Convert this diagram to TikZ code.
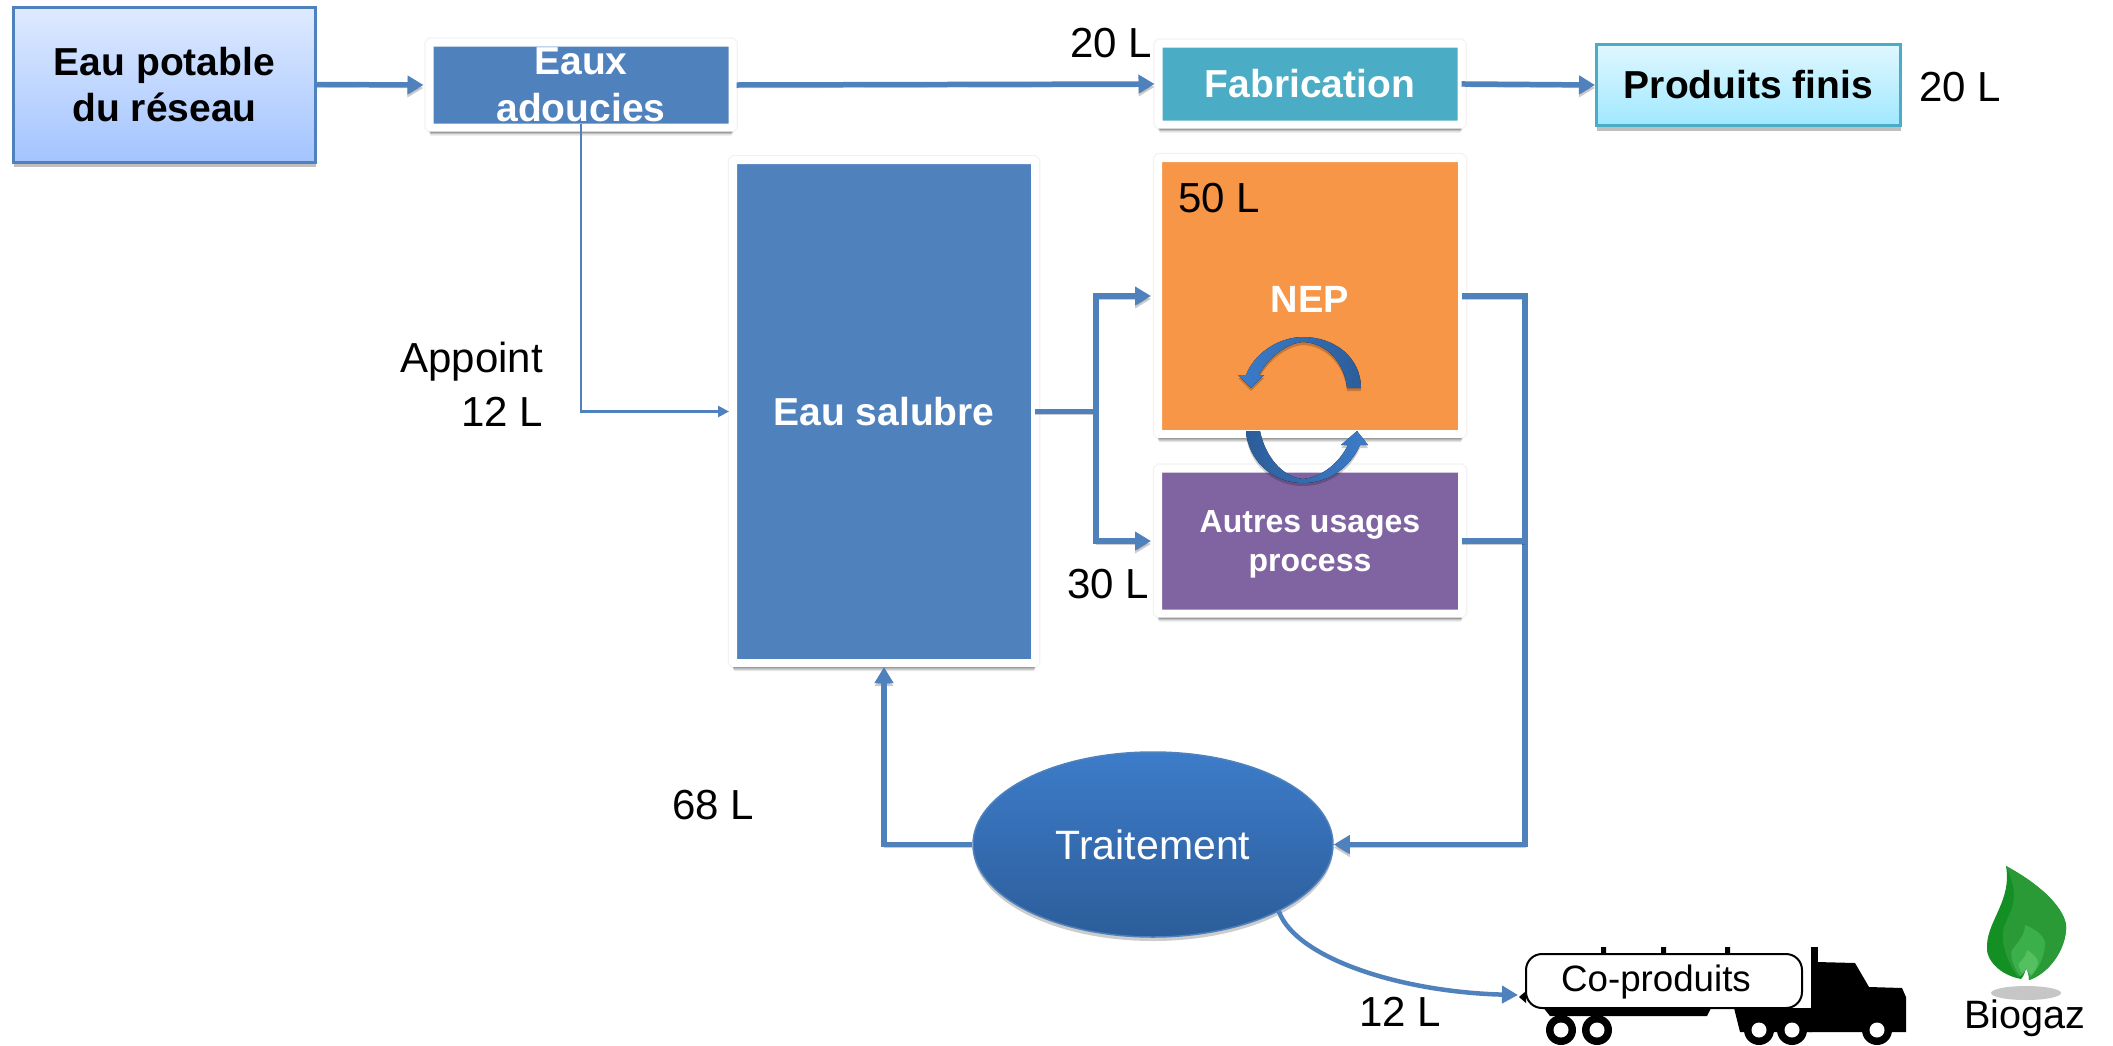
\documentclass[tikz,border=0pt]{standalone}
\usepackage{fontspec}
\setmainfont{Liberation Sans}
\usetikzlibrary{shadows,arrows.meta,calc,shapes.geometric}
\definecolor{flowblue}{HTML}{4F81BD}
\definecolor{tealbox}{HTML}{4BACC6}
\definecolor{orangebox}{HTML}{F79646}
\definecolor{purplebox}{HTML}{8064A2}
\definecolor{ribbonlight}{HTML}{3D7CC9}
\definecolor{ribbondark}{HTML}{2C5D9A}
\definecolor{potabletop}{HTML}{DEEAFF}
\definecolor{potablebot}{HTML}{A3C4FF}
\definecolor{finitop}{HTML}{E0F7FF}
\definecolor{finibot}{HTML}{A0E8FF}
\definecolor{flameA}{HTML}{148F24}
\definecolor{flameB}{HTML}{2A9A36}
\definecolor{flameC}{HTML}{3BB04A}
\definecolor{flameD}{HTML}{55C060}
\tikzset{
  softshadow/.style={drop shadow={shadow xshift=0pt,shadow yshift=-8pt,opacity=.10,fill=black},
                     drop shadow={shadow xshift=0pt,shadow yshift=-6.5pt,opacity=.16,fill=black},
                     drop shadow={shadow xshift=0pt,shadow yshift=-5pt,opacity=.22,fill=black},
                     drop shadow={shadow xshift=0pt,shadow yshift=0pt,draw=black,line width=10.5pt,opacity=.05,fill=none}},
  panel/.style={draw=white,line width=8pt,rounded corners=1.5pt,inner sep=0pt,align=center,text=white,softshadow,
                font=\fontsize{39}{47}\selectfont\bfseries},
  gradbox/.style={line width=3pt,inner sep=0pt,align=center,text=black,
                  drop shadow={shadow xshift=0pt,shadow yshift=-5pt,opacity=.25,fill=black},
                  font=\fontsize{39}{46}\selectfont\bfseries},
  boxtext/.style={inner sep=0pt,text=white,align=center},
  lbl/.style={inner sep=0pt,text=black,font=\fontsize{42}{48}\selectfont},
  flowline/.style={draw=flowblue,line width=5.5pt,line join=miter,
                   preaction={draw=black,opacity=.2,transform canvas={yshift=-3pt}}},
  flowarrow/.style={flowline,-{Triangle[length=16pt,width=18pt]}},
  thinarrow/.style={draw=flowblue,line width=2.6pt,-{Triangle[length=11pt,width=11pt]}},
  ribbonshadow/.style={drop shadow={shadow xshift=0pt,shadow yshift=-3pt,opacity=.2,fill=black}},
  wheelouter/.style={fill=black,draw=none},
  wheelinner/.style={fill=white,draw=none},
}
\begin{document}
\begin{tikzpicture}[x=1pt,y=-1pt]
\useasboundingbox[fill=white] (0,0) rectangle (2113,1045);

% boxes
\node[gradbox,draw=flowblue,top color=potabletop,bottom color=potablebot,
      minimum width=302pt,minimum height=155pt] (potable) at (164.5,84.5) {Eau potable\\du réseau};
\node[panel,fill=flowblue,minimum width=303pt,minimum height=85pt] (adou) at (581,85) {Eaux\\adoucies};
\node[panel,fill=tealbox,minimum width=303pt,minimum height=81pt] (fab) at (1310,84) {Fabrication};
\node[gradbox,draw=tealbox,top color=finitop,bottom color=finibot,
      minimum width=304pt,minimum height=81pt] (fini) at (1748.5,85) {Produits finis};
\node[panel,fill=flowblue,minimum width=302pt,minimum height=503pt] (sal) at (884,411.5) {Eau salubre};
\node[panel,fill=orangebox,minimum width=304pt,minimum height=276pt] (nep) at (1310,296) {};
\node[boxtext,font=\fontsize{38}{45}\selectfont\bfseries] (neptxt) at (1310,299) {NEP};
\node[panel,fill=purplebox,minimum width=304pt,minimum height=145pt] (autres) at (1310,541) {};
\node[boxtext,font=\fontsize{32}{39}\selectfont\bfseries] (autrestxt) at (1310,544) {Autres usages\\process};
\node[ellipse,draw=flowblue,line width=1.5pt,inner sep=0pt,minimum width=360pt,minimum height=185pt,
      top color=ribbonlight,bottom color=ribbondark,text=white,
      drop shadow={shadow xshift=0pt,shadow yshift=-4pt,opacity=.2,fill=black},
      font=\fontsize{41}{48}\selectfont] (trait) at (1153,844.5) {Traitement};

% loop ribbons
\fill[left color=ribbonlight,right color=ribbondark,ribbonshadow]
  (1251,388) -- (1238,375) -- (1246,375)
  .. controls (1255,352) and (1280,337) .. (1303,337)
  .. controls (1335,337) and (1361,358) .. (1361,388)
  -- (1347,388)
  .. controls (1345,365) and (1328,343) .. (1303,342)
  .. controls (1287,343) and (1268,358) .. (1259,375)
  -- (1264,375) -- cycle;
\fill[left color=ribbondark,right color=ribbonlight,ribbonshadow]
  (1357,431) -- (1368,445) -- (1360,445)
  .. controls (1350,468) and (1328,483) .. (1303,483)
  .. controls (1272,483) and (1248,460) .. (1246,431)
  -- (1260,431)
  .. controls (1265,456) and (1282,477) .. (1303,479)
  .. controls (1322,477) and (1339,463) .. (1348,445)
  -- (1341,445) -- cycle;

% labels
\node[lbl] (l20a) at (1111,43) {20 L};
\node[lbl] (l20b) at (1960,87) {20 L};
\node[lbl] (l50) at (1219,198) {50 L};
\node[lbl] (l30) at (1108,584) {30 L};
\node[lbl,align=right,anchor=east,font=\fontsize{42}{54}\selectfont] (lapp) at (543,384) {Appoint\\12 L\hspace{9pt}};
\node[lbl] (l68) at (713,805) {68 L};
\node[lbl] (l12) at (1400,1012) {12 L};

% connectors
\coordinate (busL) at (1096,411.5);
\coordinate (busR) at (1525,844.5);
\draw[flowarrow] (potable.east) -- ([xshift=-2pt]adou.west);
\draw[flowarrow] (adou.east) -- (fab.west);
\draw[flowarrow,shorten <=-4pt] (fab.east) -- (fini.west);
\draw[thinarrow] ([yshift=8pt]adou.south) |- (sal.west);
\draw[flowline,shorten <=-4pt] (sal.east) -- (busL);
\draw[flowarrow,shorten >=3pt] (busL) |- (nep.west);
\draw[flowarrow,shorten >=3pt] (busL) |- (autres.west);
\draw[flowarrow,shorten <=-4pt] (nep.east) -- (busR |- nep.east) -- (busR) -- (trait.east);
\draw[flowline,shorten <=-4pt] (autres.east) -- (busR |- autres.east);
\draw[flowarrow] (trait.west) -| (sal.south);

% truck
\fill (1601,947) rectangle (1606,955) (1661,947) rectangle (1666,955) (1725,947) rectangle (1730,955);
\fill (1811,947) rectangle (1818,1012);
\fill (1817,962) -- (1855,963) -- (1869,987) -- (1902,988) -- (1906,997) -- (1906,1032)
      -- (1809,1032) -- (1809,1010) -- (1817,1000) -- cycle;
\fill (1542,1006) -- (1712,1006) -- (1707,1016) -- (1550,1016) -- cycle;
\fill (1734,1008) -- (1812,1008) -- (1812,1032) -- (1740,1032) -- cycle;
\foreach \wx in {1561,1597,1759,1792,1877}{
  \fill[wheelouter] (\wx,1030) circle (15pt);
  \fill[wheelinner] (\wx,1030) circle (7.5pt);
}
\fill (1519,997) -- (1526,991) -- (1526,1003) -- cycle;
\node[draw=black,line width=2pt,fill=white,rounded corners=16pt,inner sep=0pt,
      minimum width=276pt,minimum height=54pt] (tank) at (1664,981) {};
\node[inner sep=0pt,text=black,font=\fontsize{36.7}{44}\selectfont] (cop) at (1656,982) {Co-produits};
\coordinate (tanktip) at (1518,995);
\draw[draw=flowblue,line width=4.5pt,-{Triangle[length=16pt,width=17pt]}]
  (trait.-28) .. controls (1296,958) and (1400,992) .. (tanktip);

% flame
\fill[gray!45] (2026,993) ellipse (35pt and 7pt);
\fill[flameA]
  (2006,866) .. controls (2050,890) and (2068,915) .. (2066,930)
  .. controls (2064,955) and (2045,975) .. (2029,980)
  .. controls (2029,973) and (2027,970) .. (2026,968)
  .. controls (2025,972) and (2024,976) .. (2021,979)
  .. controls (2000,975) and (1985,960) .. (1987,945)
  .. controls (1988,920) and (2012,900) .. (2006,866) -- cycle;
\fill[flameB]
  (2006,866) .. controls (2050,890) and (2068,915) .. (2066,930)
  .. controls (2064,955) and (2045,975) .. (2029,980)
  .. controls (2029,973) and (2027,970) .. (2026,968)
  .. controls (2025,972) and (2022,976) .. (2018,977)
  .. controls (2006,960) and (2000,940) .. (2004,927)
  .. controls (2010,910) and (2022,900) .. (2006,866) -- cycle;
\fill[flameC]
  (2025,925) .. controls (2038,930) and (2046,938) .. (2045,945)
  .. controls (2044,960) and (2036,972) .. (2030,977)
  .. controls (2029,973) and (2027,970) .. (2026,968)
  .. controls (2025,972) and (2024,974) .. (2020,976)
  .. controls (2012,965) and (2010,955) .. (2012,950)
  .. controls (2018,942) and (2025,935) .. (2025,925) -- cycle;
\fill[flameD]
  (2027,950) .. controls (2033,954) and (2038,958) .. (2038,963)
  .. controls (2037,968) and (2033,973) .. (2031,975)
  .. controls (2029,972) and (2027,970) .. (2026,968)
  .. controls (2025,970) and (2024,972) .. (2022,973)
  .. controls (2019,969) and (2018,965) .. (2019,963)
  .. controls (2023,960) and (2026,955) .. (2027,950) -- cycle;
\node[inner sep=0pt,text=black,font=\fontsize{39.6}{46}\selectfont] (bio) at (2025,1018) {Biogaz};
\end{tikzpicture}
\end{document}
